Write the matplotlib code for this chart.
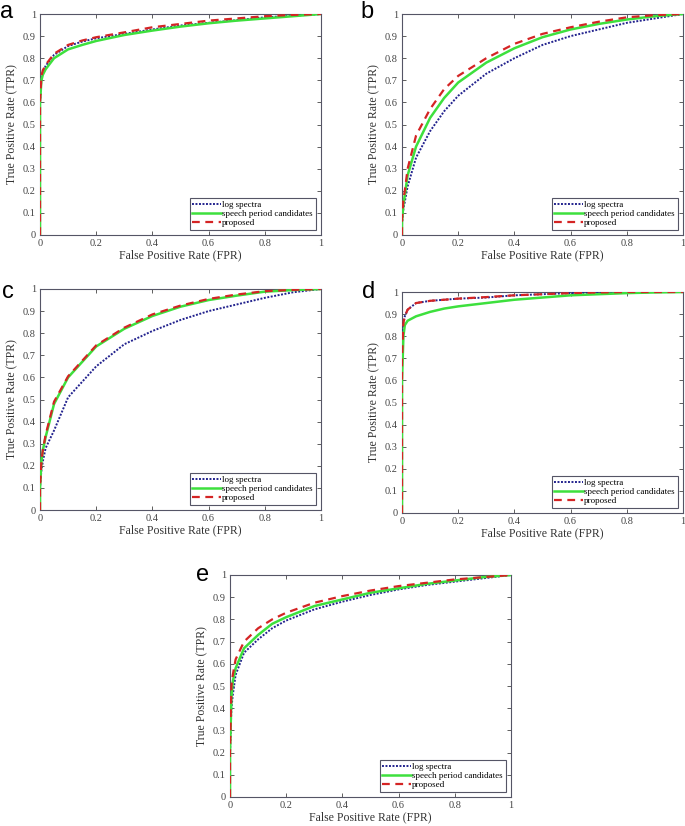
import matplotlib
matplotlib.use("Agg")
import matplotlib.pyplot as plt
import numpy as np

# ROC curves (FPR, TPR) for each panel
fpr = [0, 0.0, 0.005, 0.01, 0.02, 0.05, 0.1, 0.15, 0.2, 0.3, 0.4, 0.5, 0.6, 0.7, 0.8, 0.9, 1.0]

# panel a
a_log = [0, 0.6, 0.71, 0.735, 0.765, 0.815, 0.855, 0.875, 0.89, 0.91, 0.93, 0.948, 0.96, 0.972, 0.985, 0.992, 1.0]
a_spc = [0, 0.6, 0.70, 0.725, 0.75, 0.80, 0.84, 0.86, 0.878, 0.905, 0.925, 0.943, 0.958, 0.97, 0.98, 0.99, 1.0]
a_pro = [0, 0.6, 0.72, 0.745, 0.77, 0.82, 0.86, 0.88, 0.895, 0.917, 0.94, 0.955, 0.97, 0.98, 0.99, 0.996, 1.0]

# panel b
b_log = [0, 0.05, 0.12, 0.15, 0.22, 0.35, 0.47, 0.56, 0.63, 0.73, 0.80, 0.86, 0.90, 0.93, 0.96, 0.98, 1.0]
b_spc = [0, 0.06, 0.14, 0.18, 0.27, 0.40, 0.53, 0.62, 0.69, 0.78, 0.845, 0.895, 0.93, 0.955, 0.975, 0.99, 1.0]
b_pro = [0, 0.07, 0.16, 0.20, 0.30, 0.45, 0.57, 0.66, 0.72, 0.80, 0.865, 0.91, 0.94, 0.965, 0.985, 0.995, 1.0]

# panel c
c_log = [0, 0.1, 0.18, 0.22, 0.28, 0.36, 0.51, 0.58, 0.65, 0.75, 0.81, 0.86, 0.90, 0.93, 0.96, 0.985, 1.0]
c_spc = [0, 0.1, 0.22, 0.27, 0.33, 0.48, 0.60, 0.67, 0.74, 0.82, 0.878, 0.92, 0.95, 0.97, 0.988, 0.995, 1.0]
c_pro = [0, 0.1, 0.22, 0.27, 0.34, 0.49, 0.605, 0.675, 0.745, 0.825, 0.885, 0.925, 0.955, 0.975, 0.99, 0.996, 1.0]

# panel d
d_log = [0, 0.7, 0.86, 0.89, 0.92, 0.95, 0.96, 0.965, 0.97, 0.975, 0.985, 0.99, 0.995, 0.998, 1.0, 1.0, 1.0]
d_spc = [0, 0.6, 0.80, 0.85, 0.87, 0.89, 0.91, 0.925, 0.935, 0.95, 0.965, 0.975, 0.985, 0.99, 0.995, 0.998, 1.0]
d_pro = [0, 0.7, 0.86, 0.89, 0.92, 0.95, 0.96, 0.965, 0.97, 0.977, 0.985, 0.99, 0.995, 0.998, 1.0, 1.0, 1.0]

# panel e
e_log = [0, 0.2, 0.40, 0.46, 0.55, 0.65, 0.71, 0.76, 0.795, 0.845, 0.88, 0.91, 0.935, 0.955, 0.97, 0.985, 1.0]
e_spc = [0, 0.2, 0.45, 0.52, 0.58, 0.67, 0.73, 0.78, 0.81, 0.86, 0.89, 0.92, 0.94, 0.96, 0.975, 0.99, 1.0]
e_pro = [0, 0.2, 0.50, 0.55, 0.62, 0.70, 0.76, 0.80, 0.83, 0.875, 0.905, 0.93, 0.95, 0.965, 0.98, 0.99, 1.0]

panels = [("a", a_log, a_spc, a_pro), ("b", b_log, b_spc, b_pro), ("c", c_log, c_spc, c_pro),
          ("d", d_log, d_spc, d_pro), ("e", e_log, e_spc, e_pro)]

W, H = 685, 826
# axes boxes in pixels: left, top, right, bottom
boxes = [(40, 14, 321, 235), (402, 14, 683, 235), (40, 289, 321, 510),
         (402, 292, 683, 513), (230, 575, 511, 797)]
letter_pos = [(0, 18), (360, 18), (2, 298), (362, 298), (196, 581)]

plt.rcParams['font.family'] = ['Liberation Serif', 'DejaVu Serif']

fig = plt.figure(figsize=(W / 100, H / 100), dpi=100)

for (name, log_s, spc, pro), (l, t, r, b), (lx, ly) in zip(panels, boxes, letter_pos):
    ax = fig.add_axes([l / W, 1 - b / H, (r - l) / W, (b - t) / H])
    ax.plot(fpr, log_s, color='#23238e', linestyle=':', linewidth=1.4, dashes=(1, 0.8),
            label='log spectra', zorder=3)
    ax.plot(fpr, spc, color='#3de03d', linestyle='-', linewidth=1.8,
            label='speech period candidates', zorder=3)
    ax.plot(fpr, pro, color='#d42424', linestyle='--', linewidth=1.6, dashes=(3.5, 2.5),
            label='proposed', zorder=3)
    ax.set_xlim(0, 1)
    ax.set_ylim(0, 1)
    ax.set_xticks(np.arange(0, 1.01, 0.2))
    ax.set_yticks(np.arange(0, 1.01, 0.1))
    ax.set_xticklabels(['0', '0.2', '0.4', '0.6', '0.8', '1'])
    ax.set_yticklabels(['0', '0.1', '0.2', '0.3', '0.4', '0.5', '0.6', '0.7', '0.8', '0.9', '1'])
    ax.tick_params(direction='in', top=True, right=True, length=3, width=0.6,
                   labelsize=7.5, colors='#444444', pad=3)
    for s in ax.spines.values():
        s.set_color('#555566')
        s.set_linewidth(0.8)
    ax.set_xlabel('False Positive Rate (FPR)', fontsize=8.5, color='#333333', labelpad=1)
    ax.set_ylabel('True Positive Rate (TPR)', fontsize=8.5, color='#333333', labelpad=3)
    leg = ax.legend(loc='lower right', fontsize=6.5, handlelength=3.2, handletextpad=0.1,
                    borderpad=0.3, labelspacing=0.05, fancybox=False, framealpha=1,
                    borderaxespad=0.6)
    leg.get_frame().set_edgecolor('#555566')
    leg.get_frame().set_linewidth(0.8)
    leg.set_zorder(5)
    fig.text(lx / W, 1 - ly / H, name, fontsize=17, family='Liberation Sans',
             ha='left', va='baseline', color='black')

fig.savefig('out.png', dpi=100)
